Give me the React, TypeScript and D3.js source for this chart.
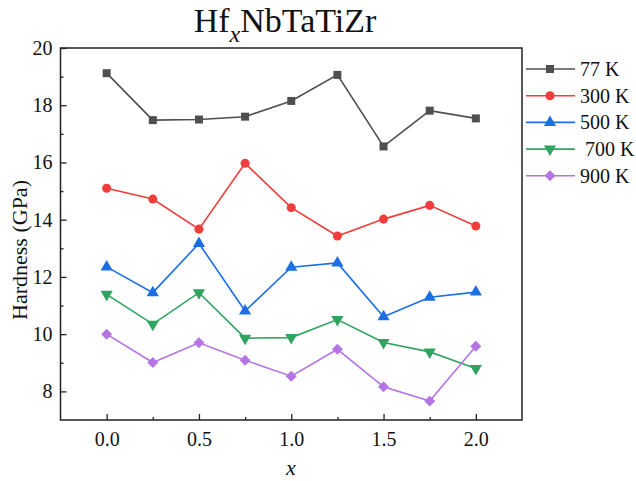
import React, { useEffect, useRef } from 'react';
import * as d3 from 'd3';

const compositions = [0, 0.25, 0.5, 0.75, 1.0, 1.25, 1.5, 1.75, 2.0];
const seriesLabels = ['77 K', '300 K', '500 K', ' 700 K', '900 K'];
const hardness77 = [19.12, 17.48, 17.5, 17.6, 18.15, 19.06, 16.56, 17.81, 17.54];
const hardness300 = [15.1, 14.72, 13.67, 15.97, 14.42, 13.43, 14.02, 14.5, 13.78];
const hardness500 = [12.35, 11.45, 13.17, 10.81, 12.34, 12.49, 10.61, 11.29, 11.47];
const hardness700 = [11.39, 10.35, 11.45, 9.86, 9.88, 10.51, 9.71, 9.38, 8.8];
const hardness900 = [10.0, 9.01, 9.7, 9.09, 8.53, 9.47, 8.16, 7.66, 9.58];
const xTicks = [0, 0.5, 1.0, 1.5, 2.0];
const xMinorTicks = [0.25, 0.75, 1.25, 1.75];
const yTicks = [8, 10, 12, 14, 16, 18, 20];
const yMinorTicks = [9, 11, 13, 15, 17, 19];

const colors = ['#4f4f4f', '#f23d3d', '#1c6fe3', '#2fa460', '#b574e3'];
const shapes = ['square', 'circle', 'triangle', 'down', 'diamond'];

const App: React.FC = () => {
  const svgRef = useRef<SVGSVGElement | null>(null);

  useEffect(() => {
    const svg = d3.select(svgRef.current);
    svg.selectAll('*').remove();

    const width = 636;
    const height = 481;
    const left = 60.5;
    const right = 522;
    const top = 48;
    const bottom = 420;
    const font = "'Liberation Serif', 'Times New Roman', serif";

    svg.attr('width', width).attr('height', height);

    const x = d3.scaleLinear().domain([-0.25, 2.25]).range([left, right]);
    const y = d3.scaleLinear().domain([7, 20]).range([bottom, top]);

    // frame
    svg.append('rect')
      .attr('x', left).attr('y', top)
      .attr('width', right - left).attr('height', bottom - top)
      .attr('fill', 'none').attr('stroke', '#222').attr('stroke-width', 1.5);

    // bottom axis, ticks inward
    const xAxis = svg.append('g').attr('transform', `translate(0, ${bottom})`)
      .call(d3.axisBottom(x).tickValues(xTicks).tickSize(-6).tickFormat(d3.format('.1f')));
    svg.append('g').attr('transform', `translate(0, ${bottom})`)
      .call(d3.axisBottom(x).tickValues(xMinorTicks).tickSize(-3).tickFormat(() => ''))
      .call((g) => g.select('.domain').remove())
      .selectAll('line').attr('stroke', '#222').attr('stroke-width', 1.3);
    xAxis.select('.domain').remove();
    xAxis.selectAll('line').attr('stroke', '#222').attr('stroke-width', 1.3);
    xAxis.selectAll('text')
      .attr('y', 12).attr('dy', '0.71em')
      .attr('font-family', font).attr('font-size', 20).attr('fill', '#111');

    // left axis, ticks inward
    const yAxis = svg.append('g').attr('transform', `translate(${left}, 0)`)
      .call(d3.axisLeft(y).tickValues(yTicks).tickSize(-6).tickFormat(d3.format('d')));
    svg.append('g').attr('transform', `translate(${left}, 0)`)
      .call(d3.axisLeft(y).tickValues(yMinorTicks).tickSize(-3).tickFormat(() => ''))
      .call((g) => g.select('.domain').remove())
      .selectAll('line').attr('stroke', '#222').attr('stroke-width', 1.3);
    yAxis.select('.domain').remove();
    yAxis.selectAll('line').attr('stroke', '#222').attr('stroke-width', 1.3);
    yAxis.selectAll('text')
      .attr('x', -8)
      .attr('font-family', font).attr('font-size', 20).attr('fill', '#111');

    const symbolFor = (shape: string) => {
      if (shape === 'square') return d3.symbol(d3.symbolSquare, 64);
      if (shape === 'circle') return d3.symbol(d3.symbolCircle, 64);
      if (shape === 'triangle' || shape === 'down') return d3.symbol(d3.symbolTriangle, 64);
      return d3.symbol(d3.symbolSquare, 60);
    };
    const rotFor = (shape: string) => (shape === 'down' ? 180 : shape === 'diamond' ? 45 : 0);

    const allSeries = [hardness77, hardness300, hardness500, hardness700, hardness900];
    const line = d3.line<number>()
      .x((_, i) => x(compositions[i]))
      .y((d) => y(d));

    allSeries.forEach((vals, si) => {
      svg.append('path')
        .attr('d', line(vals) || '')
        .attr('fill', 'none')
        .attr('stroke', colors[si])
        .attr('stroke-width', 1.6);
      vals.forEach((v, i) => {
        svg.append('path')
          .attr('d', symbolFor(shapes[si])() || '')
          .attr('transform', `translate(${x(compositions[i])}, ${y(v)}) rotate(${rotFor(shapes[si])})`)
          .attr('fill', colors[si]);
      });
    });

    // legend
    seriesLabels.forEach((label, si) => {
      const ly = 69 + si * 26.7;
      svg.append('line')
        .attr('x1', 526).attr('x2', 575).attr('y1', ly).attr('y2', ly)
        .attr('stroke', colors[si]).attr('stroke-width', 1.6);
      svg.append('path')
        .attr('d', symbolFor(shapes[si])() || '')
        .attr('transform', `translate(550, ${ly}) rotate(${rotFor(shapes[si])})`)
        .attr('fill', colors[si]);
      svg.append('text')
        .attr('x', 580).attr('y', ly + 7)
        .attr('font-family', font).attr('font-size', 20).attr('fill', '#111')
        .style('white-space', 'pre')
        .text(label);
    });

    // title
    const title = svg.append('text')
      .attr('x', 285).attr('y', 32)
      .attr('text-anchor', 'middle')
      .attr('font-family', font).attr('font-size', 34).attr('fill', '#111');
    title.append('tspan').text('Hf');
    title.append('tspan').attr('dy', 10).attr('font-size', 24).attr('font-style', 'italic').text('x');
    title.append('tspan').attr('dy', -10).text('NbTaTiZr');

    // axis titles
    svg.append('text')
      .attr('transform', 'translate(27, 250) rotate(-90)')
      .attr('text-anchor', 'middle')
      .attr('font-family', font).attr('font-size', 22).attr('fill', '#111')
      .text('Hardness (GPa)');
    svg.append('text')
      .attr('x', 291).attr('y', 475)
      .attr('text-anchor', 'middle')
      .attr('font-family', font).attr('font-size', 22).attr('font-style', 'italic').attr('fill', '#111')
      .text('x');
  }, []);

  return (
    <svg ref={svgRef} style={{ position: 'absolute', left: 0, top: 0 }}></svg>
  );
};

export default App;
